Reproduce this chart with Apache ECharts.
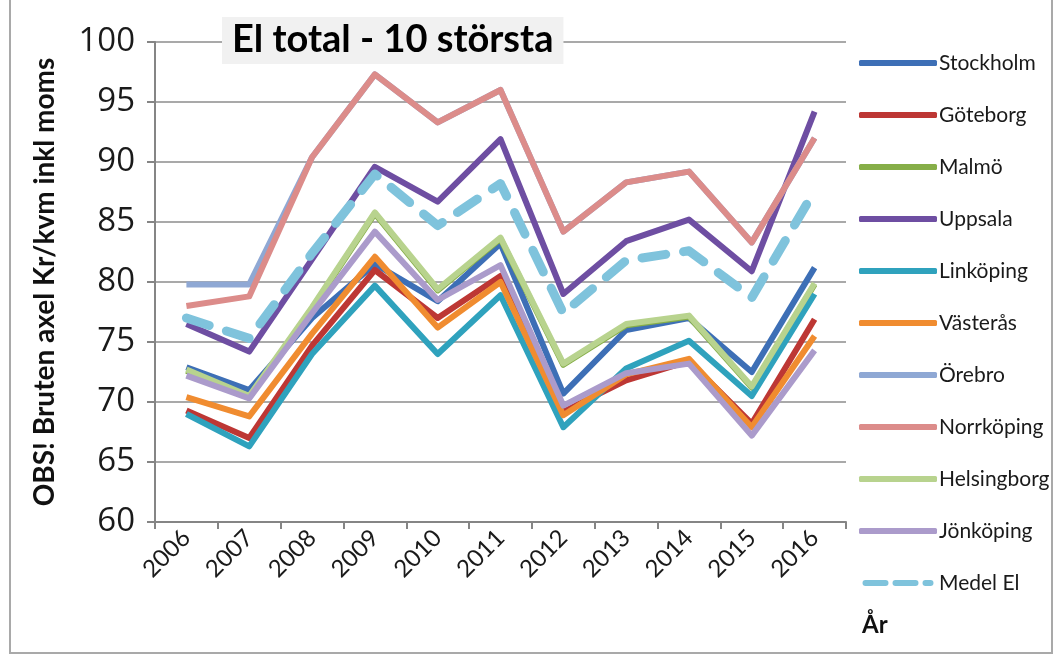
<!DOCTYPE html>
<html>
<head>
<meta charset="utf-8">
<script src="https://cdn.jsdelivr.net/npm/echarts@6/dist/echarts.min.js"></script>
<style>
  body{margin:0;padding:0;background:#fff;}
  #myChart{width:1059px;height:663px;position:absolute;left:0;top:0;}
  #frame{position:absolute;left:9px;top:-4px;width:1040px;height:654px;border:2px solid #a9a9a9;pointer-events:none;}
</style>
</head>
<body>
<div id="myChart"></div>
<div id="frame"></div>
<script type="text/javascript">
  // år
  var years = ['2006','2007','2008','2009','2010','2011','2012','2013','2014','2015','2016']
  // kr/kvm inkl moms
  var stockholm   = [72.9, 71.0, 77.0, 81.5, 78.4, 83.2, 70.7, 76.0, 77.0, 72.5, 81.2]
  var goteborg    = [69.3, 67.0, 74.7, 81.0, 77.0, 80.5, 69.2, 71.8, 73.4, 68.2, 76.9]
  var malmo       = [72.6, 70.4, 77.8, 85.7, 79.3, 83.6, 73.1, 76.4, 77.1, 71.2, 79.8]
  var uppsala     = [76.5, 74.2, 81.9, 89.6, 86.7, 91.9, 79.0, 83.4, 85.2, 80.9, 94.2]
  var linkoping   = [69.0, 66.3, 74.0, 79.7, 74.0, 78.9, 67.9, 72.8, 75.1, 70.5, 79.0]
  var vasteras    = [70.4, 68.8, 75.7, 82.1, 76.2, 80.0, 68.9, 72.3, 73.6, 67.9, 75.5]
  var orebro      = [79.8, 79.8, 90.4, 97.3, 93.3, 96.0, 84.2, 88.3, 89.2, 83.3, 92.0]
  var norrkoping  = [78.0, 78.8, 90.4, 97.3, 93.3, 96.0, 84.2, 88.3, 89.2, 83.3, 92.0]
  var helsingborg = [72.7, 70.5, 77.9, 85.8, 79.4, 83.7, 73.2, 76.5, 77.2, 71.3, 79.9]
  var jonkoping   = [72.2, 70.3, 77.4, 84.2, 78.5, 81.4, 69.7, 72.4, 73.2, 67.2, 74.3]
  var medel       = [77.0, 75.3, 82.4, 89.0, 84.7, 88.2, 77.4, 81.8, 82.6, 78.7, 87.6]

  var names  = ['Stockholm','Göteborg','Malmö','Uppsala','Linköping','Västerås','Örebro','Norrköping','Helsingborg','Jönköping','Medel El']
  var lists  = [stockholm, goteborg, malmo, uppsala, linkoping, vasteras, orebro, norrkoping, helsingborg, jonkoping, medel]
  var colors = ['#3d6fb6','#bd3734','#86ae48','#6e4ea2','#2fa2bd','#f08c30','#8fa8d4','#dc8c8a','#b8d38e','#ab9bcb','#7fc3dc']
  var yTicks = [60, 100, 5]

  var font = 'Lato, "Open Sans", sans-serif'
  // streckad ikon för medel i legenden
  var dashIcon = 'path://M3,0h20a3,3 0 0 1 0,6h-20a3,3 0 0 1 0,-6z M33,0h20a3,3 0 0 1 0,6h-20a3,3 0 0 1 0,-6z M63,0h5a3,3 0 0 1 0,6h-5a3,3 0 0 1 0,-6z'

  var series = []
  var legendData = []
  for (var i = 0; i < names.length; i++) {
    var isMedel = names[i] === 'Medel El'
    series.push({
      name: names[i],
      type: 'line',
      data: lists[i],
      symbol: 'none',
      z: 2 + i,
      color: colors[i],
      lineStyle: isMedel
        ? {color: colors[i], width: 9, type: [24, 18], cap: 'round', join: 'round'}
        : {color: colors[i], width: 6, join: 'round'}
    })
    legendData.push({name: names[i], icon: isMedel ? dashIcon : 'roundRect'})
  }

  var myChart = echarts.init(document.getElementById('myChart'))
  myChart.setOption({
    animation: false,
    backgroundColor: '#fff',
    grid: {left: 155, right: 213, top: 42, bottom: 141},
    title: {
      text: 'El total - 10 största',
      left: 222, top: 17,
      padding: [4, 10, 5, 10],
      backgroundColor: '#f1f1f1',
      textStyle: {fontFamily: font, fontSize: 38, fontWeight: 'bold', color: '#000'}
    },
    legend: {
      orient: 'vertical',
      left: 854, top: 47,
      itemWidth: 78, itemHeight: 6,
      itemGap: 30,
      textStyle: {fontFamily: font, fontSize: 21, lineHeight: 22, color: '#1a1a1a', padding: [0, 0, 0, -3]},
      data: legendData
    },
    xAxis: {
      type: 'category',
      data: years,
      boundaryGap: true,
      axisLine: {show: true, lineStyle: {color: '#858585', width: 2}},
      axisTick: {show: true, length: 7, lineStyle: {color: '#858585', width: 2}},
      axisLabel: {rotate: 45, fontFamily: font, fontSize: 24, color: '#1a1a1a', margin: 12},
      splitLine: {show: false}
    },
    yAxis: {
      type: 'value',
      min: yTicks[0], max: yTicks[1], interval: yTicks[2],
      name: 'OBS! Bruten axel Kr/kvm inkl moms',
      nameLocation: 'middle',
      nameGap: 96,
      nameTextStyle: {fontFamily: font, fontSize: 28, fontWeight: 'bold', color: '#111'},
      axisLine: {show: true, lineStyle: {color: '#858585', width: 2}},
      axisTick: {show: true, length: 8, lineStyle: {color: '#858585', width: 2}},
      axisLabel: {fontFamily: '"Open Sans", Lato, sans-serif', fontSize: 33, color: '#1a1a1a', margin: 20},
      splitLine: {show: true, lineStyle: {color: '#8c8c8c', width: 1.5}}
    },
    graphic: [
      {type: 'text', left: 862, top: 613, style: {text: 'År', fontFamily: font, fontSize: 24, fontWeight: 'bold', fill: '#111'}}
    ],
    series: series
  })
</script>
</body>
</html>
